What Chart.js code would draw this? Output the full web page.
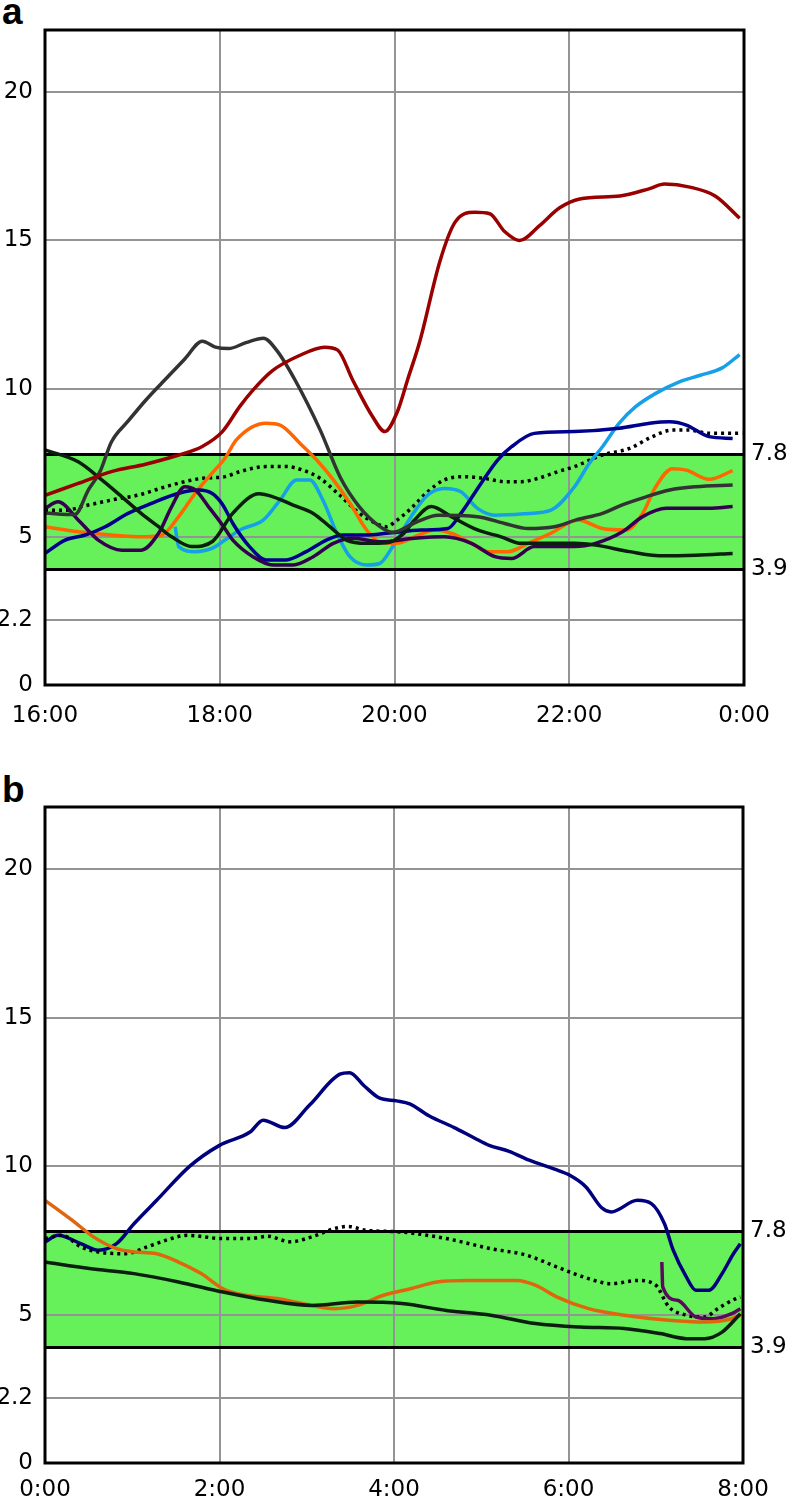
<!DOCTYPE html>
<html>
<head>
<meta charset="utf-8">
<script src="https://cdn.jsdelivr.net/npm/chart.js@4.4.1/dist/chart.umd.min.js"></script>
<style>
html,body{margin:0;padding:0;background:#fff;width:788px;height:1498px;overflow:hidden;}
.panel{position:absolute;left:0;width:788px;}
#wa{top:0;height:740px;}
#wb{top:740px;height:758px;}
.lbl{position:absolute;left:2px;font:bold 37px "Liberation Sans",Arial,sans-serif;color:#000;line-height:37px;}
</style>
</head>
<body>
<div class="lbl" style="top:-7px">a</div>
<div class="lbl" style="top:771px">b</div>
<div class="panel" id="wa"><canvas id="ca" width="788" height="740"></canvas></div>
<div class="panel" id="wb"><canvas id="cb" width="788" height="758"></canvas></div>
<script>
// ---- axes / labels ----
const hourTicks = [0, 2, 4, 6, 8];
const tickLabelsA = ['16:00', '18:00', '20:00', '22:00', '0:00'];
const tickLabelsB = ['0:00', '2:00', '4:00', '6:00', '8:00'];
const yTickValues = [0, 2.2, 5, 10, 15, 20];
const targetRange = [3.9, 7.8];
const yMax = 22.1;

// ---- panel a (16:00 - 0:00), hours after 16:00 ----
const redTimesA = [0, 0.38, 0.76, 1.15, 1.53, 1.8, 2.03, 2.23, 2.38, 2.6, 2.9, 3.2, 3.35, 3.52, 3.75, 3.89, 4.03, 4.15, 4.29, 4.52, 4.69, 4.92, 5.09, 5.26, 5.43, 5.66, 5.89, 6.12, 6.58, 6.92, 7.09, 7.38, 7.67, 7.95];
const redValuesA = [6.4, 6.8, 7.2, 7.45, 7.76, 8.05, 8.55, 9.4, 9.95, 10.6, 11.1, 11.4, 11.3, 10.3, 9.05, 8.55, 9.2, 10.3, 11.6, 14.3, 15.6, 15.95, 15.9, 15.3, 15.0, 15.5, 16.1, 16.4, 16.5, 16.75, 16.9, 16.8, 16.5, 15.75];

const grayTimesA = [0, 0.34, 0.5, 0.63, 0.76, 0.95, 1.15, 1.34, 1.6, 1.8, 1.95, 2.1, 2.3, 2.5, 2.65, 2.86, 3.15, 3.38, 3.6, 3.83, 3.98, 4.25, 4.5, 4.95, 5.26, 5.53, 5.83, 6.08, 6.38, 6.6, 6.88, 7.15, 7.45, 7.87];
const grayValuesA = [5.8, 5.75, 6.6, 7.2, 8.2, 8.9, 9.6, 10.2, 11.0, 11.6, 11.4, 11.35, 11.55, 11.7, 11.3, 10.3, 8.6, 7.0, 6.0, 5.35, 5.15, 5.5, 5.73, 5.68, 5.45, 5.28, 5.34, 5.57, 5.79, 6.07, 6.35, 6.58, 6.69, 6.75];

const darkTimesA = [0, 0.38, 0.65, 0.88, 1.1, 1.3, 1.45, 1.68, 1.92, 2.15, 2.45, 2.61, 2.84, 3.07, 3.26, 3.45, 3.68, 3.91, 4.1, 4.23, 4.42, 4.65, 4.95, 5.22, 5.45, 6.06, 6.3, 6.69, 7.03, 7.45, 7.87];
const darkValuesA = [7.93, 7.53, 6.92, 6.35, 5.79, 5.34, 5.0, 4.67, 4.85, 5.8, 6.45, 6.35, 6.07, 5.79, 5.34, 4.89, 4.78, 4.8, 5.1, 5.57, 6.02, 5.68, 5.23, 5.0, 4.78, 4.78, 4.72, 4.5, 4.36, 4.38, 4.44];

const orangeTimesA = [0, 0.38, 0.76, 1.15, 1.34, 1.53, 1.72, 1.91, 2.06, 2.19, 2.53, 2.69, 2.92, 3.11, 3.3, 3.49, 3.68, 3.83, 4.03, 4.23, 4.46, 4.65, 4.88, 5.07, 5.3, 5.53, 5.79, 6.1, 6.38, 6.65, 6.84, 6.99, 7.18, 7.34, 7.6, 7.87];
const orangeValuesA = [5.34, 5.17, 5.06, 5.0, 5.06, 5.68, 6.47, 7.14, 7.65, 8.27, 8.83, 8.77, 8.15, 7.59, 6.92, 6.13, 5.23, 4.83, 4.78, 5.0, 5.23, 5.12, 4.78, 4.5, 4.5, 4.78, 5.12, 5.57, 5.28, 5.23, 5.79, 6.69, 7.3, 7.25, 6.94, 7.23];

const skyTimesA = [1.49, 1.53, 1.72, 1.91, 2.06, 2.23, 2.5, 2.69, 2.88, 3.03, 3.18, 3.34, 3.49, 3.68, 3.83, 3.98, 4.19, 4.38, 4.57, 4.76, 4.95, 5.15, 5.53, 5.79, 6.06, 6.23, 6.38, 6.57, 6.76, 6.99, 7.26, 7.5, 7.75, 7.95];
const skyValuesA = [5.34, 4.67, 4.5, 4.61, 4.89, 5.23, 5.57, 6.24, 6.92, 6.92, 6.24, 5.12, 4.33, 4.05, 4.1, 4.67, 5.68, 6.41, 6.63, 6.52, 5.96, 5.73, 5.79, 5.9, 6.69, 7.48, 8.04, 8.83, 9.39, 9.84, 10.23, 10.45, 10.7, 11.15];

const navyTimesA = [0, 0.23, 0.46, 0.69, 0.95, 1.22, 1.53, 1.76, 1.91, 2.03, 2.15, 2.34, 2.53, 2.76, 2.99, 3.22, 3.41, 3.68, 3.91, 4.31, 4.61, 4.76, 4.99, 5.18, 5.34, 5.6, 6.06, 6.57, 6.92, 7.15, 7.34, 7.6, 7.87];
const navyValuesA = [4.44, 4.89, 5.06, 5.34, 5.79, 6.13, 6.47, 6.58, 6.47, 6.1, 5.45, 4.67, 4.22, 4.22, 4.5, 4.89, 5.06, 5.06, 5.12, 5.23, 5.28, 5.79, 6.8, 7.59, 8.04, 8.49, 8.55, 8.66, 8.83, 8.88, 8.77, 8.38, 8.32];

const purpleTimesA = [0, 0.15, 0.38, 0.61, 0.88, 1.1, 1.3, 1.45, 1.6, 1.72, 1.87, 2.03, 2.15, 2.38, 2.61, 2.84, 3.07, 3.3, 3.53, 3.83, 4.23, 4.57, 4.88, 5.15, 5.34, 5.6, 6.06, 6.3, 6.61, 6.84, 7.11, 7.6, 7.87];
const purpleValuesA = [5.96, 6.18, 5.57, 4.89, 4.55, 4.55, 5.12, 6.02, 6.69, 6.58, 6.02, 5.4, 4.89, 4.33, 4.05, 4.05, 4.33, 4.78, 4.95, 4.83, 4.95, 5.0, 4.78, 4.33, 4.27, 4.67, 4.67, 4.78, 5.17, 5.68, 5.96, 5.96, 6.02];

const dottedTimesA = [0, 0.25, 0.42, 0.76, 1.07, 1.45, 1.79, 2.06, 2.23, 2.53, 2.76, 2.95, 3.15, 3.37, 3.6, 3.79, 3.91, 4.02, 4.19, 4.38, 4.57, 4.8, 5.03, 5.26, 5.45, 5.64, 5.87, 6.06, 6.38, 6.69, 6.95, 7.18, 7.37, 7.6, 7.98];
const dottedValuesA = [5.9, 5.9, 6.02, 6.24, 6.41, 6.75, 6.97, 7.03, 7.2, 7.37, 7.37, 7.25, 6.97, 6.41, 5.79, 5.45, 5.34, 5.54, 5.96, 6.52, 6.92, 7.03, 6.97, 6.86, 6.86, 6.97, 7.2, 7.37, 7.76, 7.98, 8.38, 8.6, 8.6, 8.49, 8.49];

// ---- panel b (0:00 - 8:00), hours after 0:00 ----
const navyTimesB = [0, 0.15, 0.41, 0.61, 0.82, 1.02, 1.28, 1.66, 2.0, 2.35, 2.5, 2.75, 3.03, 3.38, 3.49, 3.66, 3.83, 4.03, 4.18, 4.4, 4.69, 4.92, 5.09, 5.32, 5.55, 5.84, 6.01, 6.2, 6.38, 6.49, 6.79, 6.95, 7.1, 7.2, 7.35, 7.46, 7.61, 7.76, 7.89, 7.97];
const navyValuesB = [7.45, 7.67, 7.39, 7.17, 7.39, 8.06, 8.85, 10.0, 10.7, 11.15, 11.55, 11.3, 12.05, 13.1, 13.15, 12.7, 12.3, 12.2, 12.1, 11.7, 11.3, 10.95, 10.7, 10.5, 10.2, 9.9, 9.7, 9.3, 8.6, 8.46, 8.85, 8.74, 8.06, 7.17, 6.27, 5.82, 5.82, 6.38, 7.05, 7.39];

const dottedTimesB = [0, 0.2, 0.41, 0.61, 0.92, 1.17, 1.38, 1.63, 2.04, 2.35, 2.55, 2.81, 3.06, 3.32, 3.47, 3.68, 4.09, 4.6, 5.11, 5.52, 5.87, 6.23, 6.49, 6.79, 7.0, 7.15, 7.35, 7.56, 7.71, 7.92, 7.97];
const dottedValuesB = [7.56, 7.67, 7.28, 7.11, 7.05, 7.28, 7.5, 7.67, 7.56, 7.56, 7.64, 7.45, 7.62, 7.9, 7.97, 7.84, 7.78, 7.56, 7.22, 7.0, 6.6, 6.21, 6.04, 6.15, 5.99, 5.26, 4.98, 4.92, 5.2, 5.54, 5.59];

const orangeTimesB = [0, 0.31, 0.56, 0.82, 1.02, 1.28, 1.53, 1.79, 2.04, 2.3, 2.66, 2.96, 3.32, 3.58, 3.88, 4.19, 4.49, 4.85, 5.41, 5.62, 5.87, 6.23, 6.64, 7.15, 7.56, 7.87, 7.97];
const orangeValuesB = [8.85, 8.18, 7.61, 7.22, 7.11, 7.05, 6.77, 6.38, 5.87, 5.65, 5.54, 5.37, 5.2, 5.31, 5.65, 5.87, 6.1, 6.15, 6.15, 5.99, 5.59, 5.2, 4.98, 4.81, 4.75, 4.86, 4.98];

const darkTimesB = [0, 0.51, 1.02, 1.53, 2.04, 2.55, 3.06, 3.58, 4.09, 4.6, 5.11, 5.62, 6.13, 6.64, 7.05, 7.35, 7.56, 7.76, 7.97];
const darkValuesB = [6.77, 6.55, 6.38, 6.1, 5.76, 5.48, 5.31, 5.42, 5.37, 5.14, 4.98, 4.7, 4.58, 4.53, 4.36, 4.19, 4.19, 4.41, 5.03];

const purpleTimesB = [7.07, 7.08, 7.25, 7.46, 7.66, 7.87, 7.97];
const purpleValuesB = [6.77, 5.93, 5.48, 4.92, 4.86, 5.03, 5.2];

// ---- helpers ----
function pts(t, v) { return t.map((x, i) => ({ x: x, y: v[i] })); }
function line(t, v, color, dash) {
  return {
    data: pts(t, v), borderColor: color, borderWidth: 3.5, pointRadius: 0,
    fill: false, cubicInterpolationMode: 'monotone', borderDash: dash || [],
    borderCapStyle: 'butt', borderJoinStyle: 'round'
  };
}

const bandPlugin = {
  id: 'band',
  beforeDraw(chart) {
    const { ctx, chartArea: a, scales: { y } } = chart;
    const yt = y.getPixelForValue(targetRange[1]);
    const yb = y.getPixelForValue(targetRange[0]);
    ctx.save();
    ctx.fillStyle = '#66f05a';
    ctx.fillRect(a.left, yt, a.right - a.left, yb - yt);
    ctx.restore();
  },
  beforeDatasetsDraw(chart) {
    const { ctx, chartArea: a, scales: { y } } = chart;
    ctx.save();
    ctx.strokeStyle = '#000';
    ctx.lineWidth = 3;
    targetRange.forEach(v => {
      const py = Math.round(y.getPixelForValue(v)) + 0.5;
      ctx.beginPath(); ctx.moveTo(a.left, py); ctx.lineTo(a.right, py); ctx.stroke();
    });
    ctx.restore();
  },
  afterDatasetsDraw(chart) {
    const { ctx, chartArea: a } = chart;
    ctx.save();
    ctx.strokeStyle = '#000';
    ctx.lineWidth = 3;
    ctx.strokeRect(a.left, a.top, a.right - a.left, a.bottom - a.top);
    ctx.restore();
  }
};

const tickFont = { family: 'DejaVu Sans', size: 23 };

function makeChart(id, datasets, tickLabels, padTop, xHeight, rightWidth, xLineHeight) {
  return new Chart(document.getElementById(id), {
    type: 'line',
    data: { datasets: datasets },
    plugins: [bandPlugin],
    options: {
      responsive: false, animation: false, devicePixelRatio: 1,
      layout: { padding: { top: padTop, left: 0, right: 0, bottom: 0 } },
      plugins: { legend: { display: false }, tooltip: { enabled: false } },
      scales: {
        x: {
          type: 'linear', min: 0, max: 8,
          afterBuildTicks: s => { s.ticks = hourTicks.map(v => ({ value: v })); },
          afterFit: s => { s.height = xHeight; },
          grid: { color: '#949494', lineWidth: 2, drawTicks: false },
          border: { display: false },
          ticks: { font: { family: 'DejaVu Sans', size: 23, lineHeight: xLineHeight },
                   color: '#000', padding: 8, maxRotation: 0, autoSkip: false,
                   callback: (v, i) => tickLabels[i] }
        },
        y: {
          type: 'linear', min: 0, max: yMax,
          afterBuildTicks: s => { s.ticks = yTickValues.map(v => ({ value: v })); },
          afterFit: s => { s.width = 45; },
          grid: { color: '#949494', lineWidth: 2, drawTicks: false },
          border: { display: false },
          ticks: { font: tickFont, color: '#000', padding: 12, autoSkip: false,
                   callback: v => String(v) }
        },
        y2: {
          type: 'linear', position: 'right', min: 0, max: yMax,
          afterBuildTicks: s => { s.ticks = targetRange.map(v => ({ value: v })); },
          afterFit: s => { s.width = rightWidth; },
          grid: { display: false, drawTicks: false },
          border: { display: false },
          ticks: { font: tickFont, color: '#000', padding: 7, autoSkip: false,
                   callback: v => v.toFixed(1) }
        }
      }
    }
  });
}

makeChart('ca', [
  line(redTimesA, redValuesA, '#9a0000'),
  line(grayTimesA, grayValuesA, '#333333'),
  line(darkTimesA, darkValuesA, '#0b1f0e'),
  line(purpleTimesA, purpleValuesA, '#35004f'),
  line(navyTimesA, navyValuesA, '#00008f'),
  line(orangeTimesA, orangeValuesA, '#ff6600'),
  line(skyTimesA, skyValuesA, '#16a0e8'),
  line(dottedTimesA, dottedValuesA, '#000000', [3, 4])
], tickLabelsA, 30, 55, 44, '46px');

makeChart('cb', [
  line(darkTimesB, darkValuesB, '#0b1f0e'),
  line(orangeTimesB, orangeValuesB, '#e0660e'),
  line(purpleTimesB, purpleValuesB, '#5a0a5a'),
  line(dottedTimesB, dottedValuesB, '#000000', [3, 4]),
  line(navyTimesB, navyValuesB, '#00007f')
], tickLabelsB, 67, 35, 45, '38px');
</script>
</body>
</html>
